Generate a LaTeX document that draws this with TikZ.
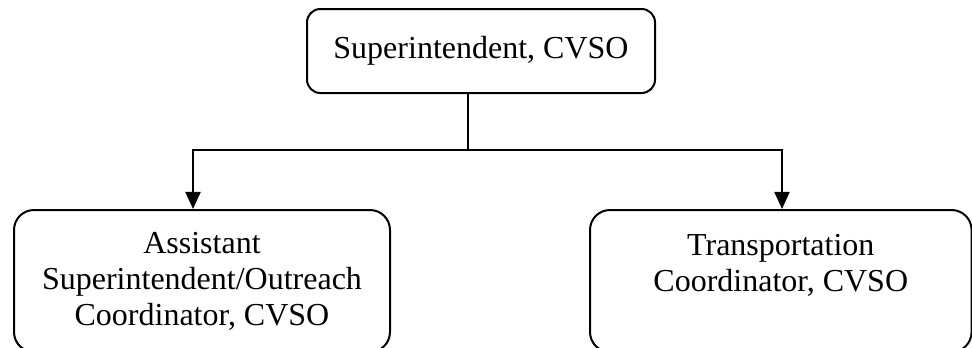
\documentclass[tikz,border=0pt]{standalone}
\usepackage{fontspec}
\setmainfont{Liberation Serif}
\usetikzlibrary{arrows.meta}

\tikzset{
  post/.style={draw,line width=0.75pt,rounded corners=7.5pt,align=center,
    inner sep=0pt,font=\fontsize{12}{13.5}\selectfont},
  link/.style={line width=0.9pt},
  tip/.style={-{Triangle[length=6.4pt,width=5.6pt]}}
}

\begin{document}
\begin{tikzpicture}[x=0.375pt,y=-0.375pt]
\useasboundingbox (0,0) rectangle (972,347);

\coordinate (fork) at (468,150);
\coordinate (la) at (193,150);
\coordinate (ra) at (782,150);

% the boxes
\node[post,rounded corners=5pt,minimum width=130.5pt,minimum height=31.5pt]
  (top) at (481,51) {Superintendent, CVSO};
\node[post,minimum width=141pt,minimum height=53.25pt]
  (lbox) at (202,281) {Assistant\\Superintendent/Outreach\\Coordinator, CVSO};
\node[post,minimum width=143.1pt,minimum height=53.25pt]
  (rbox) at (780.8,281) {Transportation\\Coordinator, CVSO\\ \mbox{}};

% the connectors
\draw[link] (top.south -| fork) -- (fork);
\foreach \p/\b in {la/lbox,ra/rbox}
{
  \draw[link,tip] (fork) -| (\p |- \b.north);
}
\end{tikzpicture}
\end{document}
